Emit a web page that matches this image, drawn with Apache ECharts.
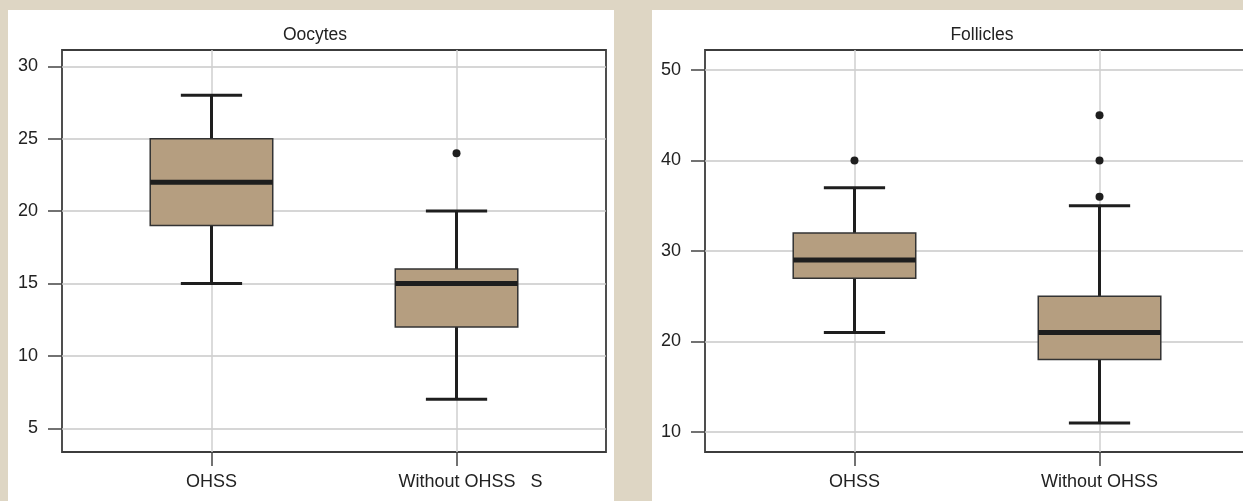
<!DOCTYPE html>
<html>
<head>
<meta charset="utf-8">
<script src="https://cdn.jsdelivr.net/npm/echarts@6/dist/echarts.min.js"></script>
<style>
html,body{margin:0;padding:0;background:#DED6C4;}
#wrap{position:relative;width:1243px;height:501px;overflow:hidden;}
.panel{position:absolute;background:#ffffff;}
#c{position:absolute;left:0;top:0;width:1260px;height:501px;}
</style>
</head>
<body>
<div id="wrap">
  <div class="panel" style="left:8px;top:10px;width:606px;height:491px;"></div>
  <div class="panel" style="left:652px;top:10px;width:591px;height:491px;"></div>
  <div id="c"></div>
</div>
<script>
// ---- data ----
const oocyteTitle = 'Oocytes';
const oocyteLabels = ['OHSS', 'Without OHSS   S'];
const oocyteBox = [[15, 19, 22, 25, 28], [7, 12, 15, 16, 20]]; // min, Q1, median, Q3, max
const oocyteOutliers = [[2, 24]];
const oocyteTicks = [5, 10, 15, 20, 25, 30];

const follicleTitle = 'Follicles';
const follicleLabels = ['OHSS', 'Without OHSS'];
const follicleBox = [[21, 27, 29, 32, 37], [11, 18, 21, 25, 35]];
const follicleOutliers = [[1, 40], [2, 36], [2, 40], [2, 45]];
const follicleTicks = [10, 20, 30, 40, 50];

// ---- chart ----
const positions = [1, 2];
const FONT = '"Liberation Sans", Arial, sans-serif';
const ink = '#1e1e1e';

function boxData(rows) {
  return rows.map((r, i) => [positions[i]].concat(r));
}

function renderBox(params, api) {
  const x = api.value(0);
  const v = [1, 2, 3, 4, 5].map(i => api.value(i));
  const p = v.map(val => api.coord([x, val]));
  const cx = p[0][0];
  const boxW = api.size([0.5, 0])[0];
  const capW = api.size([0.25, 0])[0];
  const ls = { stroke: ink, lineWidth: 3 };
  return {
    type: 'group',
    children: [
      { type: 'line', shape: { x1: cx, y1: p[0][1], x2: cx, y2: p[1][1] }, style: ls },
      { type: 'line', shape: { x1: cx, y1: p[3][1], x2: cx, y2: p[4][1] }, style: ls },
      { type: 'line', shape: { x1: cx - capW / 2, y1: p[0][1], x2: cx + capW / 2, y2: p[0][1] }, style: ls },
      { type: 'line', shape: { x1: cx - capW / 2, y1: p[4][1], x2: cx + capW / 2, y2: p[4][1] }, style: ls },
      { type: 'rect', shape: { x: cx - boxW / 2, y: p[3][1], width: boxW, height: p[1][1] - p[3][1] },
        style: { fill: '#B59E80', stroke: '#333333', lineWidth: 1.5 } },
      { type: 'line', shape: { x1: cx - boxW / 2, y1: p[2][1], x2: cx + boxW / 2, y2: p[2][1] },
        style: { stroke: ink, lineWidth: 5 } }
    ]
  };
}

function xAxisFor(gridIndex, labels) {
  return {
    type: 'value', gridIndex, min: 0.39, max: 2.61,
    axisLine: { show: false },
    axisTick: { show: true, length: 14, customValues: positions, lineStyle: { color: '#444', width: 1.5 } },
    splitLine: { show: true, lineStyle: { color: '#CFCFCF', width: 1.5 } },
    axisLabel: {
      customValues: positions, margin: 21, fontSize: 18, color: '#222', fontFamily: FONT,
      formatter: function (val) {
        const t = labels[positions.indexOf(val)] || '';
        return /\s{2,}\S$/.test(t) ? '{s|' + t + '}' : t;
      },
      rich: { s: { fontSize: 18, color: '#222', fontFamily: FONT, padding: [0, 0, 0, 28] } }
    }
  };
}

function yAxisFor(gridIndex, ticks, min, max) {
  return {
    type: 'value', gridIndex, min, max,
    axisLine: { show: false },
    axisTick: { show: true, length: 14, customValues: ticks, lineStyle: { color: '#444', width: 1.5 } },
    splitLine: { show: true, lineStyle: { color: '#C9C9C9', width: 1.5 } },
    axisLabel: { customValues: ticks, margin: 24, fontSize: 18, color: '#222', fontFamily: FONT }
  };
}

const chart = echarts.init(document.getElementById('c'), null, { renderer: 'canvas' });
chart.setOption({
  backgroundColor: 'transparent',
  animation: false,
  title: [
    { text: oocyteTitle, left: 310, top: 21, textAlign: 'center',
      textStyle: { fontSize: 17.5, fontWeight: 'normal', color: '#222', fontFamily: FONT } },
    { text: follicleTitle, left: 977, top: 21, textAlign: 'center',
      textStyle: { fontSize: 17.5, fontWeight: 'normal', color: '#222', fontFamily: FONT } }
  ],
  grid: [
    { left: 62, top: 50, width: 544, height: 402, show: true, borderColor: '#3c3c3c', borderWidth: 1.8, backgroundColor: 'transparent', containLabel: false },
    { left: 705, top: 50, width: 544, height: 402, show: true, borderColor: '#3c3c3c', borderWidth: 1.8, backgroundColor: 'transparent', containLabel: false }
  ],
  xAxis: [xAxisFor(0, oocyteLabels), xAxisFor(1, follicleLabels)],
  yAxis: [yAxisFor(0, oocyteTicks, 3.36, 31.13), yAxisFor(1, follicleTicks, 7.79, 52.21)],
  series: [
    { type: 'custom', xAxisIndex: 0, yAxisIndex: 0, renderItem: renderBox,
      encode: { x: 0, y: [1, 2, 3, 4, 5] }, data: boxData(oocyteBox), silent: true },
    { type: 'scatter', xAxisIndex: 0, yAxisIndex: 0, data: oocyteOutliers, symbolSize: 8,
      itemStyle: { color: ink, opacity: 1 }, silent: true },
    { type: 'custom', xAxisIndex: 1, yAxisIndex: 1, renderItem: renderBox,
      encode: { x: 0, y: [1, 2, 3, 4, 5] }, data: boxData(follicleBox), silent: true },
    { type: 'scatter', xAxisIndex: 1, yAxisIndex: 1, data: follicleOutliers, symbolSize: 8,
      itemStyle: { color: ink, opacity: 1 }, silent: true }
  ]
});
</script>
</body>
</html>
